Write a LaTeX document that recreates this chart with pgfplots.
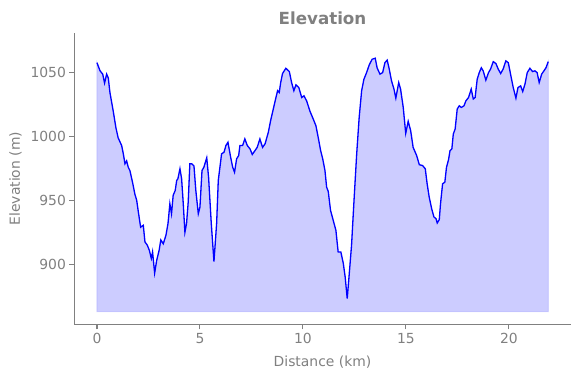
\documentclass[border=0pt]{standalone}
\usepackage{fontspec}
\setmainfont{DejaVu Sans}
\usepackage{pgfplots}
\pgfplotsset{compat=1.18}
\usepgfplotslibrary{fillbetween}
\definecolor{txtgray}{HTML}{808080}
\pgfplotstableread{
x y
0 1058
0.15 1051.6
0.28 1049
0.37 1042
0.47 1049
0.55 1046
0.63 1034.6
0.79 1020
0.92 1007
1.03 999
1.2 993
1.28 986.5
1.36 978.7
1.44 981
1.52 976
1.6 973.4
1.73 964
1.84 955
1.93 950
2.0 942
2.12 929
2.25 930.5
2.33 917.4
2.44 915
2.54 911
2.64 904.5
2.7 909.6
2.8 893
2.9 903
3.02 911
3.1 919
3.22 916
3.35 922.7
3.45 932
3.54 947.4
3.62 939.6
3.7 954
3.8 957.8
3.87 965.6
3.93 967
4.03 974.8
4.11 967
4.19 947.4
4.27 925
4.35 932
4.43 948.7
4.51 978.7
4.6 978.7
4.71 977
4.8 957.8
4.92 939.6
5.0 944.8
5.1 973.4
5.19 976
5.33 983.4
5.42 968
5.55 932
5.68 902
5.81 932
5.89 965.6
6.05 986.5
6.17 987.8
6.26 993
6.36 995.6
6.49 983.9
6.59 976
6.68 972.1
6.78 982.6
6.88 985.2
6.94 993
7.07 993
7.18 998.2
7.3 993
7.43 990.4
7.54 986
7.67 989
7.78 991.6
7.91 998.2
8.04 991.6
8.16 994.3
8.32 1003.4
8.43 1012.5
8.56 1021.6
8.69 1030.7
8.77 1036
8.85 1034.6
8.92 1042.4
9.01 1049.5
9.17 1053.6
9.34 1051
9.45 1042.4
9.56 1036
9.66 1040.6
9.8 1038.5
9.94 1030.7
10.05 1032
10.18 1028
10.34 1020
10.5 1013.8
10.63 1008.6
10.74 999.5
10.86 989
10.96 982.6
11.07 973.4
11.15 960.4
11.23 957
11.34 942.2
11.47 934.4
11.6 926.6
11.71 909.6
11.84 909.6
11.96 900.6
12.05 890
12.15 873
12.25 892.7
12.36 914.8
12.48 950
12.61 986.5
12.73 1015
12.85 1036
12.96 1045
13.09 1050.2
13.22 1056.3
13.36 1060.7
13.51 1061.5
13.6 1054
13.74 1049
13.87 1050.2
13.98 1058
14.09 1060
14.19 1053
14.3 1043.8
14.42 1037.3
14.51 1030.2
14.65 1042.4
14.74 1037.3
14.87 1022.9
14.99 1002.6
15.11 1012
15.23 1004.7
15.35 991.6
15.52 985.2
15.65 978
15.81 977.3
15.94 974.8
16.03 963
16.13 952.6
16.25 943.5
16.36 937
16.46 935.7
16.52 932.3
16.62 935
16.68 947.4
16.78 963
16.89 964.3
16.97 976
17.07 982
17.14 989
17.23 990.4
17.3 1002
17.39 1006
17.49 1021.6
17.59 1024.2
17.69 1022.9
17.82 1024.2
17.91 1028
18.04 1030.7
18.17 1037.3
18.27 1029.5
18.36 1030.7
18.46 1045
18.56 1050.2
18.66 1054
18.75 1051.6
18.88 1044.3
19.01 1050.2
19.11 1053
19.24 1058.8
19.37 1057.3
19.48 1053
19.6 1049.5
19.72 1053
19.85 1059.4
19.97 1058
20.08 1049
20.21 1038.5
20.34 1030.2
20.44 1038.5
20.57 1039.8
20.67 1035.4
20.78 1041.2
20.89 1050.2
21.02 1053.6
21.15 1051
21.26 1051.6
21.37 1050.2
21.47 1042.4
21.59 1049
21.7 1051.6
21.8 1054
21.91 1058.8
}\elev
\begin{document}
\begin{tikzpicture}
\begin{axis}[
  at={(74.3bp,53.5bp)}, anchor=south west,
  scale only axis, width=496.4bp, height=291.8bp,
  xmin=-1.1, xmax=23.0, ymin=852.7, ymax=1081.5,
  axis lines*=left,
  axis line style={txtgray, line width=1.1bp},
  tick style={txtgray, line width=1.1bp},
  major tick length=4.9bp, tick align=outside,
  xtick={0,5,10,15,20}, ytick={900,950,1000,1050},
  /pgf/number format/assume math mode=true,
  /pgf/number format/set thousands separator={},
  ticklabel style={font=\fontsize{13.9bp}{16bp}\selectfont, text=txtgray},
  title={Elevation},
  every axis title shift=0pt,
  title style={at={(axis description cs:0.5,1.0264)}, anchor=base, yshift=0pt, font=\bfseries\fontsize{16.7bp}{20bp}\selectfont, text=txtgray},
  xlabel={Distance (km)},
  xlabel style={at={(axis description cs:0.5,-0.1446)}, anchor=base, font=\fontsize{13.9bp}{16bp}\selectfont, text=txtgray},
  ylabel={Elevation (m)},
  ylabel style={at={(axis description cs:-0.1098,0.5)}, anchor=base, font=\fontsize{13.9bp}{16bp}\selectfont, text=txtgray},
]
\addplot[name path=elev, color=blue, line width=1.3bp] table[x=x,y=y] {\elev};
\addplot[name path=base, draw=none] coordinates {(0,862.7) (21.91,862.7)};
\addplot[fill=blue, fill opacity=0.2, draw=blue, draw opacity=0.12, line width=1bp] fill between[of=elev and base];
\end{axis}
\path (0bp,0bp) rectangle (580bp,378bp);
\end{tikzpicture}
\end{document}
